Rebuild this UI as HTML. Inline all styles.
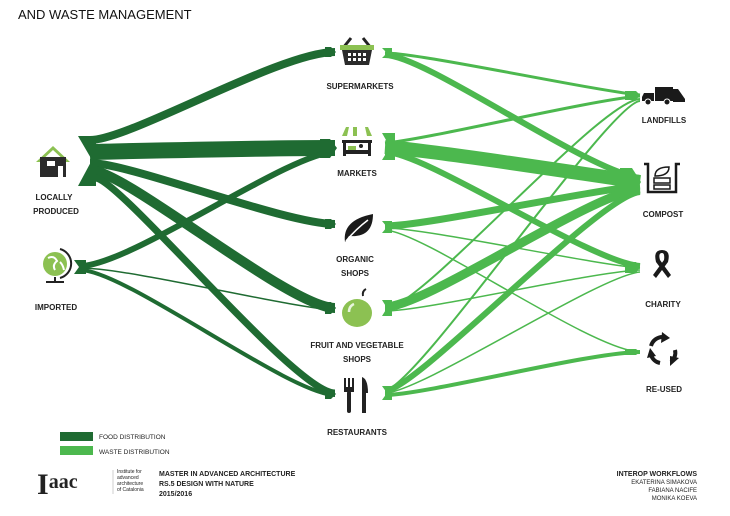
<!DOCTYPE html>
<html><head><meta charset="utf-8"><style>
html,body{margin:0;padding:0;background:#fff;width:730px;height:516px;overflow:hidden}
svg{display:block}
text{font-family:"Liberation Sans",Arial,sans-serif;fill:#222}
.l{font-size:8px;text-anchor:middle;font-weight:bold}
</style></head><body>
<svg width="730" height="516" viewBox="0 0 730 516" xmlns="http://www.w3.org/2000/svg">
<text x="18" y="19" style="font-size:13px;fill:#111">AND WASTE MANAGEMENT</text>

<!-- waste distribution (light) -->
<g fill="none" stroke="#4cb84e" stroke-linecap="butt">
<path d="M385 53 C420 53,590 90,640 95" stroke-width="3"/>
<path d="M385 55 C425 55,585 170,640 178" stroke-width="6"/>
<path d="M385 143 C425 140,590 100,640 96" stroke-width="3"/>
<path d="M385 147 C430 150,590 175,640 182" stroke-width="14"/>
<path d="M385 152 C425 152,590 262,640 266" stroke-width="6"/>
<path d="M385 226 C425 226,590 190,640 186" stroke-width="7"/>
<path d="M385 228 C425 228,590 264,640 268" stroke-width="1.5"/>
<path d="M385 230 C425 232,590 350,640 352" stroke-width="1.5"/>
<path d="M385 307 C425 307,590 194,640 189" stroke-width="9"/>
<path d="M385 311 C425 311,590 272,640 270" stroke-width="1.5"/>
<path d="M385 309 C420 309,600 100,640 99" stroke-width="2"/>
<path d="M385 390 C415 390,610 102,640 101" stroke-width="2"/>
<path d="M385 391 C415 391,600 195,640 192" stroke-width="6"/>
<path d="M385 393 C420 393,600 275,640 272" stroke-width="1.5"/>
<path d="M385 395 C425 395,590 352,640 352" stroke-width="4"/>
</g>
<g fill="#4cb84e">
<polygon points="382,48 392,48 392,58 382,58 387,53"/>
<polygon points="382,133 395,133 395,160 382,160 390,147"/>
<polygon points="382,221 392,221 392,233 382,233 387,227"/>
<polygon points="382,300 392,300 392,316 382,316 387,308"/>
<polygon points="382,386 392,386 392,400 382,400 387,393"/>
<polygon points="625,91 636,91 640,95 636,100 625,100"/>
<polygon points="620,168 632,168 641,182 632,197 620,197"/>
<polygon points="625,262 636,262 640,267 636,273 625,273"/>
<polygon points="625,349 636,349 640,352 636,355 625,355"/>
</g>

<!-- food distribution (dark) -->
<g fill="none" stroke="#1f6b32" stroke-linecap="butt">
<path d="M90 140 C130 140,280 52,335 52" stroke-width="8"/>
<path d="M90 152 C180 150,260 148,335 148" stroke-width="16"/>
<path d="M90 163 C130 163,285 224,335 224" stroke-width="8"/>
<path d="M90 170 C125 170,290 308,335 308" stroke-width="10"/>
<path d="M95 178 C120 178,295 393,335 393" stroke-width="7"/>
<path d="M80 266 C130 266,290 152,335 152" stroke-width="6"/>
<path d="M80 268 C130 268,290 308,335 310" stroke-width="1.5"/>
<path d="M80 270 C125 270,290 395,335 395" stroke-width="4"/>
</g>
<g fill="#1f6b32">
<polygon points="78,136 96,136 96,186 78,186 92,160"/>
<polygon points="74,260 86,260 86,274 74,274 79,267"/>
<polygon points="325,47 331,47 336,52 331,57 325,57"/>
<polygon points="320,139 330,139 337,148 330,158 320,158"/>
<polygon points="325,219 331,219 336,224 331,229 325,229"/>
<polygon points="325,302 331,302 336,308 331,314 325,314"/>
<polygon points="325,389 331,389 336,394 331,399 325,399"/>
</g>

<!-- source icons -->
<polygon points="36,162 53,146 70,162 66,162 53,150 40,162" fill="#8cc152"/>
<rect x="40" y="157" width="26" height="20" fill="#2b2b2b"/>
<rect x="47" y="161" width="8" height="5" fill="#fff"/>
<rect x="58" y="166" width="5" height="11" fill="#fff"/>
<text class="l" x="54" y="200">LOCALLY</text>
<text class="l" x="56" y="214">PRODUCED</text>
<circle cx="55" cy="264" r="12" fill="#8cc152"/>
<path d="M48 258 q6 -3 9 3 q-5 4 -2 9 M60 262 q3 3 4 8" stroke="#fff" stroke-width="2" fill="none"/>
<path d="M60 249 a15 15 0 0 1 0 29" stroke="#222" stroke-width="2" fill="none"/>
<rect x="54" y="277" width="2" height="4" fill="#222"/><rect x="46" y="281" width="18" height="2" fill="#222"/>
<text class="l" x="56" y="310">IMPORTED</text>

<!-- middle icons -->
<path d="M343 48 l8 -10 M371 48 l-8 -10" stroke="#222" stroke-width="3"/>
<rect x="340" y="45" width="34" height="5" fill="#8cc152"/>
<path d="M342 50 h30 l-3 15 h-24z" fill="#2b2b2b"/>
<g fill="#fff"><rect x="348" y="53" width="3" height="3"/><rect x="353" y="53" width="3" height="3"/><rect x="358" y="53" width="3" height="3"/><rect x="363" y="53" width="3" height="3"/><rect x="348" y="58" width="3" height="3"/><rect x="353" y="58" width="3" height="3"/><rect x="358" y="58" width="3" height="3"/><rect x="363" y="58" width="3" height="3"/></g>
<text class="l" x="360" y="89">SUPERMARKETS</text>
<g fill="#8cc152"><path d="M342 136 l4 -9 h3 l-2 9z"/><path d="M353 136 v-9 h4 v9z"/><path d="M367 136 l-2 -9 h3 l4 9z"/></g>
<rect x="342" y="140" width="30" height="3" fill="#222"/>
<rect x="343" y="143" width="3" height="13" fill="#222"/><rect x="368" y="143" width="3" height="13" fill="#222"/>
<rect x="346" y="150" width="22" height="4" fill="#222"/><rect x="348" y="146" width="8" height="4" fill="#8cc152"/><circle cx="361" cy="146" r="2" fill="#222"/>
<text class="l" x="357" y="176">MARKETS</text>
<path d="M345 242 q-3 -22 28 -28 q0 24 -24 22 z" fill="#1a1a1a"/>
<path d="M346 241 q10 -12 22 -21" stroke="#fff" stroke-width="1.5" fill="none"/>
<text class="l" x="355" y="262">ORGANIC</text>
<text class="l" x="355" y="276">SHOPS</text>
<path d="M363 296 q-1 -5 3 -7" stroke="#222" stroke-width="2" fill="none"/>
<ellipse cx="357" cy="313" rx="15" ry="14" fill="#8cc152"/>
<path d="M349 312 q0 -6 5 -8" stroke="#e8f5dc" stroke-width="2.5" fill="none"/>
<text class="l" x="357" y="348">FRUIT AND VEGETABLE</text>
<text class="l" x="357" y="362">SHOPS</text>
<rect x="344" y="378" width="2" height="10" fill="#222"/><rect x="348" y="378" width="2" height="10" fill="#222"/><rect x="352" y="378" width="2" height="10" fill="#222"/>
<rect x="344" y="387" width="10" height="5" fill="#222"/><rect x="347" y="391" width="4" height="22" rx="2" fill="#222"/>
<path d="M362 377 q6 2 6 16 h-2 v20 h-4z" fill="#222"/>
<text class="l" x="357" y="435">RESTAURANTS</text>

<!-- right icons -->
<rect x="655" y="87" width="18" height="14" fill="#1a1a1a"/>
<path d="M673 89 h5 l7 10 v3 h-12z" fill="#1a1a1a"/>
<path d="M644 93 h10 v8 h-12 v-4z" fill="#1a1a1a"/>
<circle cx="648" cy="102" r="3" fill="#1a1a1a" stroke="#fff"/><circle cx="667" cy="102" r="3" fill="#1a1a1a" stroke="#fff"/>
<text class="l" x="664" y="123">LANDFILLS</text>
<path d="M644 164 h4 v28 h28 v-28 h4 M648 164 v0" stroke="#1a1a1a" stroke-width="2.5" fill="none"/>
<rect x="654" y="178" width="16" height="5" fill="none" stroke="#1a1a1a" stroke-width="1.5"/>
<rect x="654" y="185" width="16" height="4" fill="none" stroke="#1a1a1a" stroke-width="1.5"/>
<path d="M655 176 q0 -9 14 -9 q0 9 -14 9z" fill="none" stroke="#1a1a1a" stroke-width="1.5"/>
<text class="l" x="663" y="217">COMPOST</text>
<path d="M656 262 q-3 -12 6 -12 q9 0 6 12 l-12 16 l-3 -3 l11 -15 q1 -7 -2 -7 q-4 0 -2 7 l11 15 l-3 3z" fill="#1a1a1a"/>
<text class="l" x="663" y="307">CHARITY</text>
<g fill="none" stroke="#1a1a1a" stroke-width="4">
<path d="M651 346 a12 12 0 0 1 12 -9"/><path d="M675 350 a12 12 0 0 1 -4 12"/><path d="M660 363 a12 12 0 0 1 -9 -8"/>
</g>
<g fill="#1a1a1a"><polygon points="662,332 670,338 661,343"/><polygon points="679,358 670,366 670,356"/><polygon points="647,358 650,348 656,356"/></g>
<text class="l" x="664" y="392">RE-USED</text>

<!-- legend -->
<rect x="60" y="432" width="33" height="9" fill="#1f6b32"/>
<rect x="60" y="446" width="33" height="9" fill="#4cb84e"/>
<text x="99" y="439" style="font-size:6.5px">FOOD DISTRIBUTION</text>
<text x="99" y="454" style="font-size:6.5px">WASTE DISTRIBUTION</text>

<!-- footer -->
<text x="37" y="494" style="font-family:'Liberation Serif',serif;font-size:30px;font-weight:bold;fill:#222">I<tspan style="font-size:20px" dy="-6">aac</tspan></text>
<line x1="113" y1="470" x2="113" y2="494" stroke="#bbb" stroke-width="0.7"/>
<text x="117" y="473" style="font-size:5px">Institute for</text>
<text x="117" y="479" style="font-size:5px">advanced</text>
<text x="117" y="485" style="font-size:5px">architecture</text>
<text x="117" y="491" style="font-size:5px">of Catalonia</text>
<text x="159" y="476" style="font-size:7px;font-weight:bold">MASTER IN ADVANCED ARCHITECTURE</text>
<text x="159" y="486" style="font-size:7px;font-weight:bold">RS.5 DESIGN WITH NATURE</text>
<text x="159" y="496" style="font-size:7px;font-weight:bold">2015/2016</text>
<text x="697" y="476" style="font-size:7px;font-weight:bold;text-anchor:end">INTEROP WORKFLOWS</text>
<text x="697" y="484" style="font-size:6px;text-anchor:end">EKATERINA SIMAKOVA</text>
<text x="697" y="492" style="font-size:6px;text-anchor:end">FABIANA NACIFE</text>
<text x="697" y="500" style="font-size:6px;text-anchor:end">MONIKA KOEVA</text>
</svg>
</body></html>
